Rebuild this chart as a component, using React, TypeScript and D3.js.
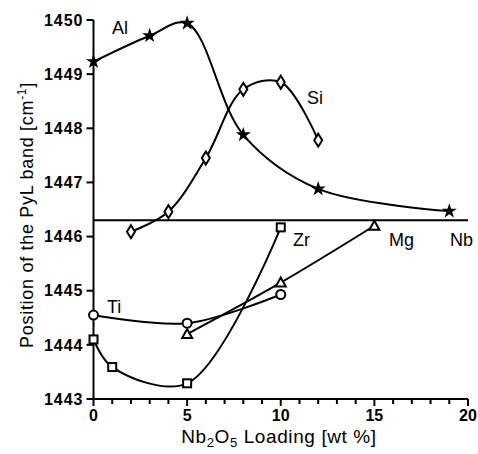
import React from "react";
import * as d3 from "d3";

const alX = [0, 3, 5, 8, 12, 19];
const alY = [1449.23, 1449.71, 1449.94, 1447.88, 1446.88, 1446.47];
const siX = [2, 4, 6, 8, 10, 12];
const siY = [1446.09, 1446.46, 1447.45, 1448.72, 1448.85, 1447.78];
const tiX = [0, 5, 10];
const tiY = [1444.55, 1444.4, 1444.93];
const zrX = [0, 1, 5, 10];
const zrY = [1444.1, 1443.59, 1443.29, 1446.17];
const mgX = [5, 10, 15];
const mgY = [1444.2, 1445.15, 1446.2];
const nbLevel = 1446.3;
const xTicks = [0, 5, 10, 15, 20];
const yTicks = [1443, 1444, 1445, 1446, 1447, 1448, 1449, 1450];

const W = 478;
const H = 454;
const x = d3.scaleLinear().domain([0, 20]).range([93.5, 468]);
const y = d3.scaleLinear().domain([1443, 1450]).range([399, 20]);

const pts = (xs: number[], ys: number[]) => xs.map((v, i) => [v, ys[i]] as [number, number]);
const line = d3
  .line<[number, number]>()
  .x((d) => x(d[0]))
  .y((d) => y(d[1]))
  .curve(d3.curveCatmullRom.alpha(0.5));

const starPath = d3.symbol().type(d3.symbolStar).size(70)() as string;

export default function App() {
  const font = "'Liberation Sans', Arial, Helvetica, sans-serif";
  const minor = d3.range(0, 21, 1);
  const series = [
    pts(alX, alY),
    pts(siX, siY),
    pts(tiX, tiY),
    pts(zrX, zrY),
    pts(mgX, mgY),
  ];
  return (
    <svg
      width={W}
      height={H}
      style={{ position: "absolute", left: 0, top: 0, background: "#fff" }}
      fontFamily={font}
    >
      {/* axes */}
      <line x1={x(0)} x2={x(0)} y1={y(1450)} y2={y(1443)} stroke="#000" strokeWidth={2} />
      <line x1={x(0)} x2={x(20)} y1={y(1443)} y2={y(1443)} stroke="#000" strokeWidth={2} />
      {yTicks.map((t) => (
        <g key={"yt" + t}>
          <line x1={x(0) - 7} x2={x(0)} y1={y(t)} y2={y(t)} stroke="#000" strokeWidth={2} />
          <text
            x={x(0) - 10}
            y={y(t)}
            dy="0.36em"
            textAnchor="end"
            fontSize={16}
            fontWeight="bold"
            letterSpacing={1}
          >
            {t}
          </text>
        </g>
      ))}
      {minor.map((t) => (
        <line
          key={"xm" + t}
          x1={x(t)}
          x2={x(t)}
          y1={y(1443)}
          y2={y(1443) + (t % 5 === 0 ? 7 : 5)}
          stroke="#000"
          strokeWidth={2}
        />
      ))}
      {xTicks.map((t) => (
        <text
          key={"xt" + t}
          x={x(t)}
          y={y(1443) + 22}
          textAnchor="middle"
          fontSize={16}
          fontWeight="bold"
        >
          {t}
        </text>
      ))}
      <text x={279} y={443} textAnchor="middle" fontSize={19} letterSpacing={0.6}>
        Nb<tspan fontSize={13} dy={4}>2</tspan>
        <tspan dy={-4}>O</tspan>
        <tspan fontSize={13} dy={4}>5</tspan>
        <tspan dy={-4}> Loading [wt %]</tspan>
      </text>
      <text
        transform={`translate(33,${215}) rotate(-90)`}
        textAnchor="middle"
        fontSize={18}
        letterSpacing={0.7}
      >
        Position of the PyL band [cm<tspan fontSize={12} dy={-7}>-1</tspan>
        <tspan dy={7}>]</tspan>
      </text>

      {/* Nb reference line */}
      <line x1={x(0)} x2={x(20)} y1={y(nbLevel)} y2={y(nbLevel)} stroke="#000" strokeWidth={2} />

      {/* curves */}
      {series.map((s, i) => (
        <path key={"s" + i} d={line(s) as string} fill="none" stroke="#000" strokeWidth={2} />
      ))}

      {/* markers */}
      {pts(alX, alY).map((d, i) => (
        <path key={"al" + i} d={starPath} transform={`translate(${x(d[0])},${y(d[1])})`} fill="#000" />
      ))}
      {pts(siX, siY).map((d, i) => (
        <path
          key={"si" + i}
          d="M0,-6.5L4,0L0,6.5L-4,0Z"
          transform={`translate(${x(d[0])},${y(d[1])})`}
          fill="#fff"
          stroke="#000"
          strokeWidth={2}
        />
      ))}
      {pts(tiX, tiY).map((d, i) => (
        <circle key={"ti" + i} cx={x(d[0])} cy={y(d[1])} r={4.5} fill="#fff" stroke="#000" strokeWidth={2} />
      ))}
      {pts(zrX, zrY).map((d, i) => (
        <rect
          key={"zr" + i}
          x={x(d[0]) - 4}
          y={y(d[1]) - 4}
          width={8}
          height={8}
          fill="#fff"
          stroke="#000"
          strokeWidth={2}
        />
      ))}
      {pts(mgX, mgY).map((d, i) => (
        <path
          key={"mg" + i}
          d="M0,-5L5,4L-5,4Z"
          transform={`translate(${x(d[0])},${y(d[1])})`}
          fill="#fff"
          stroke="#000"
          strokeWidth={2}
        />
      ))}

      {/* series labels */}
      <text x={112} y={34} fontSize={18}>Al</text>
      <text x={307} y={104} fontSize={18}>Si</text>
      <text x={107} y={313} fontSize={18}>Ti</text>
      <text x={293} y={246} fontSize={18}>Zr</text>
      <text x={389} y={246} fontSize={18}>Mg</text>
      <text x={450} y={246} fontSize={18}>Nb</text>
    </svg>
  );
}
